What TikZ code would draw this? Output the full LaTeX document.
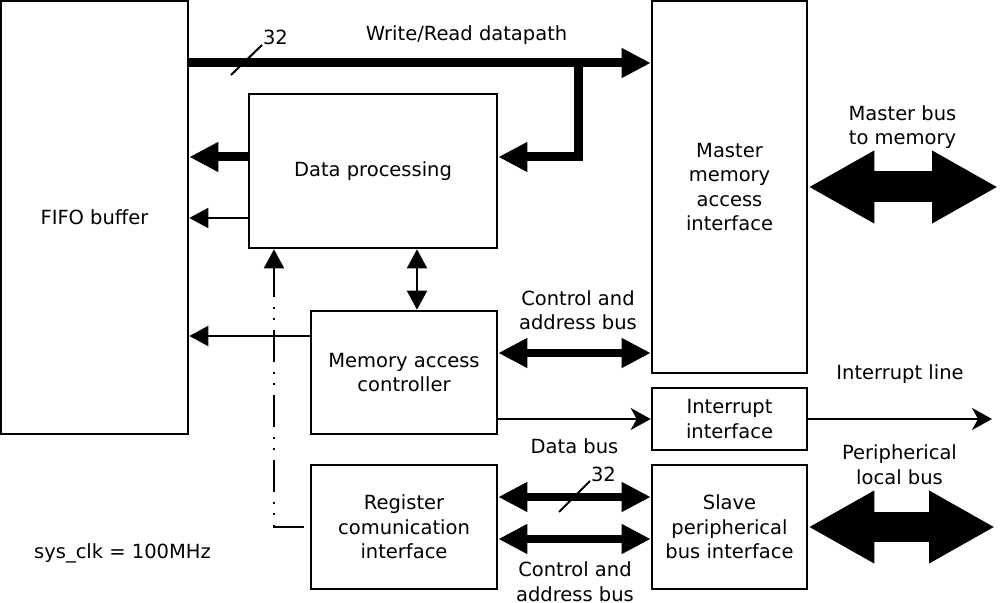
\documentclass[tikz,border=0pt]{standalone}
\usepackage{fontspec}
\setmainfont{DejaVu Sans}
\usetikzlibrary{arrows.meta}

\begin{document}
\begin{tikzpicture}[x=0.5pt,y=-0.5pt,
  font=\fontsize{9.75}{12.25}\selectfont,
  block/.style={draw,line width=1.3pt,align=center,inner sep=0pt},
  caption/.style={align=center,inner sep=0pt},
  wire/.style={line width=1pt},
  bus/.style={line width=4pt},
  widebus/.style={line width=15.5pt,widehead-widehead},
  clkpath/.style={line width=1pt,dash pattern=on 16pt off 5pt on 1pt off 4.5pt on 1pt off 5pt},
  thinhead/.tip={Triangle[length=9.5pt,width=10pt]},
  bushead/.tip={Triangle[length=14.5pt,width=14pt]},
  widehead/.tip={Triangle[length=33pt,width=34pt]},
  irqhead/.tip={Stealth[length=10pt,width=11pt,inset=3pt]}]
  \useasboundingbox (0,0) rectangle (1000,603);
  % blocks
  \node[block,minimum width=93.5pt,minimum height=216.5pt] (fifo) at (94.5,217.5) {FIFO buffer};
  \node[block,minimum width=77.5pt,minimum height=186pt] (master) at (729.5,187) {Master\\memory\\access\\interface};
  \node[block,minimum width=124pt,minimum height=77pt] (dp) at (373,171) {Data processing};
  \node[block,minimum width=93pt,minimum height=61.5pt] (mac) at (404,372.5) {Memory access\\controller};
  \node[block,minimum width=93pt,minimum height=62pt] (reg) at (404,527) {Register\\comunication\\interface};
  \node[block,minimum width=77.5pt,minimum height=31pt] (irq) at (729.5,419) {Interrupt\\interface};
  \node[block,minimum width=77.5pt,minimum height=62pt] (slave) at (729.5,527) {Slave\\peripherical\\bus interface};
  % write/read datapath
  \draw[bus,line width=4.5pt,-bushead] (fifo.east |- 0,63) -- (master.west |- 0,63);
  \draw[bus,line width=4.5pt,line join=miter,-bushead] (578,63) |- (dp.east |- 0,157);
  \node[caption] (wrlabel) at (466.5,35) {Write/Read datapath};
  \draw[wire] (231,75) -- (262,45) node[anchor=base west,inner sep=0pt] (wrwidth) {32};
  % towards the fifo
  \draw[bus,line width=4.5pt,-bushead] (dp.west |- 0,157) -- (fifo.east |- 0,157);
  \draw[wire,-thinhead] (dp.west |- 0,218) -- (fifo.east |- 0,218);
  \draw[wire,-thinhead] (mac.west |- 0,336) -- (fifo.east |- 0,336);
  \draw[wire,thinhead-thinhead] (mac.north -| 417,0) -- (dp.south -| 417,0);
  % clock
  \coordinate (clkstart) at ([xshift=-3pt]reg.west);
  \draw[clkpath,-thinhead] (clkstart) -| (dp.south -| 274,0);
  \node[caption] (sysclk) at (122.5,553) {sys\_clk = 100MHz};
  % buses to the interfaces
  \draw[bus,bushead-bushead] (mac.east |- 0,353) -- (master.west |- 0,353);
  \node[caption] (ctrltop) at (578,310) {Control and\\address bus};
  \draw[wire,-irqhead] (mac.east |- irq.west) -- (irq.west);
  \draw[bus,bushead-bushead] (reg.east |- 0,497) -- (slave.west |- 0,497);
  \node[caption] (databus) at (574.5,446) {Data bus};
  \draw[wire] (559,512) -- (590,481) node[anchor=base west,inner sep=0pt] (datawidth) {32};
  \draw[bus,bushead-bushead] (reg.east |- 0,539) -- (slave.west |- 0,539);
  \node[caption] (ctrlbot) at (575,581.5) {Control and\\address bus};
  % outside world
  \coordinate (memend) at (998,187);
  \draw[widebus] (master.east |- memend) -- (memend);
  \node[caption] (mastbus) at (902.5,127) {Master bus\\to memory};
  \coordinate (irqend) at (992,419);
  \draw[wire,-irqhead] (irq.east) -- (irqend);
  \node[caption] (irqline) at (900,374) {Interrupt line};
  \coordinate (perend) at (995,527);
  \draw[widebus,line width=15pt] (slave.east) -- (perend);
  \node[caption] (perbus) at (899.5,464.5) {Peripherical\\local bus};
\end{tikzpicture}
\end{document}
